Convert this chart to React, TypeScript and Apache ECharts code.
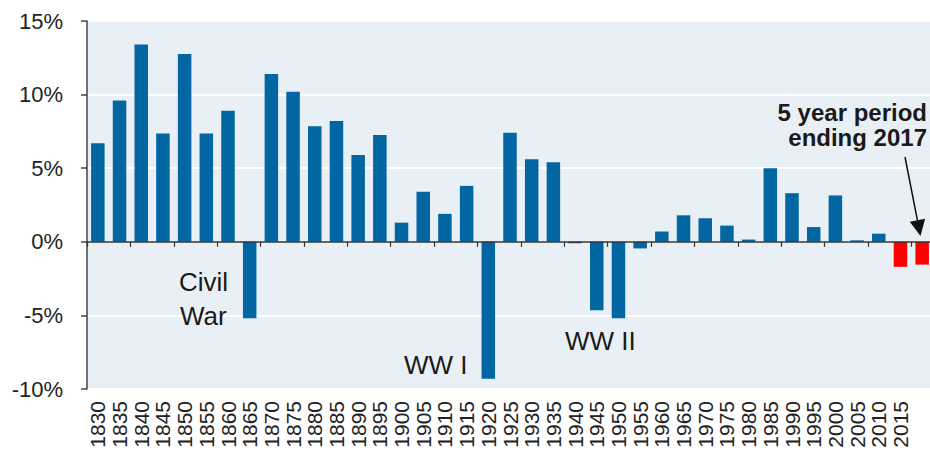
import React, { useEffect, useRef } from "react";
import * as echarts from "echarts";

const periods = [
  "1830", "1835", "1840", "1845", "1850", "1855", "1860", "1865", "1870", "1875",
  "1880", "1885", "1890", "1895", "1900", "1905", "1910", "1915", "1920", "1925",
  "1930", "1935", "1940", "1945", "1950", "1955", "1960", "1965", "1970", "1975",
  "1980", "1985", "1990", "1995", "2000", "2005", "2010", "2015", "2017",
];
const returns = [
  6.7, 9.6, 13.4, 7.35, 12.75, 7.35, 8.9, -5.2, 11.4, 10.2,
  7.85, 8.2, 5.9, 7.25, 1.3, 3.4, 1.9, 3.8, -9.3, 7.4,
  5.6, 5.4, -0.1, -4.65, -5.2, -0.45, 0.7, 1.8, 1.6, 1.1,
  0.15, 5.0, 3.3, 1.0, 3.15, 0.1, 0.55, -1.7, -1.55,
];
const recentPeriods = ["2015", "2017"];
const hiddenLabels = ["2017"];
const yTicks = { min: -10, max: 15, interval: 5 };

const FONT = "'Liberation Sans', Arial, sans-serif";
const BLUE = "#0266a2";
const RED = "#ff0000";

export default function App() {
  const ref = useRef<HTMLDivElement>(null);
  useEffect(() => {
    if (!ref.current) return;
    const chart = echarts.init(ref.current, undefined, { renderer: "svg" });
    const data = returns.map((v, i) => ({
      value: v,
      itemStyle: { color: recentPeriods.includes(periods[i]) ? RED : BLUE },
    }));
    const tipX = 920.5, tipY = 236;
    const dx = 0.192, dy = 0.981;
    const hl = 16, hw = 7.8;
    const bx = tipX - hl * dx, by = tipY - hl * dy;
    const txt = (x: number, y: number, text: string, font: string, align = "left") => ({
      type: "text",
      x,
      y,
      z: 100,
      style: { text, font, fill: "#1a1a1a", textAlign: align, textVerticalAlign: "middle" },
    });
    chart.setOption({
      animation: false,
      grid: {
        left: 87,
        top: 21,
        width: 846,
        height: 368,
        show: true,
        backgroundColor: "#e9f0f5",
        borderWidth: 0,
        containLabel: false,
        outerBoundsMode: "none",
      },
      xAxis: [
        {
          type: "category",
          data: periods,
          axisLine: { show: true, onZero: true, lineStyle: { color: "#333", width: 1.5 } },
          axisTick: { show: true, length: 5, lineStyle: { color: "#333", width: 1.2 } },
          axisLabel: { show: false },
          splitLine: { show: false },
          z: 5,
        },
        {
          type: "category",
          data: periods,
          position: "bottom",
          axisLine: { show: false, onZero: false },
          axisTick: { show: false },
          axisLabel: {
            show: true,
            interval: 0,
            rotate: 90,
            margin: 12,
            fontSize: 21,
            fontFamily: FONT,
            color: "#222",
            formatter: (v: string) => (hiddenLabels.includes(v) ? "" : v),
          },
          splitLine: { show: false },
        },
      ],
      yAxis: {
        type: "value",
        min: yTicks.min,
        max: yTicks.max,
        interval: yTicks.interval,
        axisLine: { show: true, lineStyle: { color: "#444", width: 1.5 } },
        axisTick: { show: true, length: 6, lineStyle: { color: "#444", width: 1.5 } },
        axisLabel: {
          formatter: "{value}%",
          fontSize: 22,
          fontFamily: FONT,
          color: "#222",
          margin: 24,
        },
        splitLine: { show: true, lineStyle: { color: "#ffffff", width: 2 } },
      },
      series: [
        {
          type: "bar",
          xAxisIndex: 0,
          data,
          barWidth: 13.5,
          z: 3,
        },
      ],
      graphic: [
        txt(179, 282, "Civil", `26px ${FONT}`),
        txt(180, 316, "War", `26px ${FONT}`),
        txt(404, 365, "WW I", `26px ${FONT}`),
        txt(565, 341, "WW II", `26px ${FONT}`),
        txt(927, 112, "5 year period", `bold 24px ${FONT}`, "right"),
        txt(927, 137, "ending 2017", `bold 24px ${FONT}`, "right"),
        { type: "line", z: 100, shape: { x1: 905, y1: 157, x2: bx, y2: by }, style: { stroke: "#111", lineWidth: 1.5 } },
        {
          type: "polygon",
          z: 100,
          shape: {
            points: [
              [tipX, tipY],
              [bx + hw * dy, by - hw * dx],
              [bx - hw * dy, by + hw * dx],
            ],
          },
          style: { fill: "#111" },
        },
      ],
    });
    return () => chart.dispose();
  }, []);
  return (
    <div
      ref={ref}
      style={{ position: "absolute", left: 0, top: 0, width: 930, height: 450 }}
    />
  );
}
